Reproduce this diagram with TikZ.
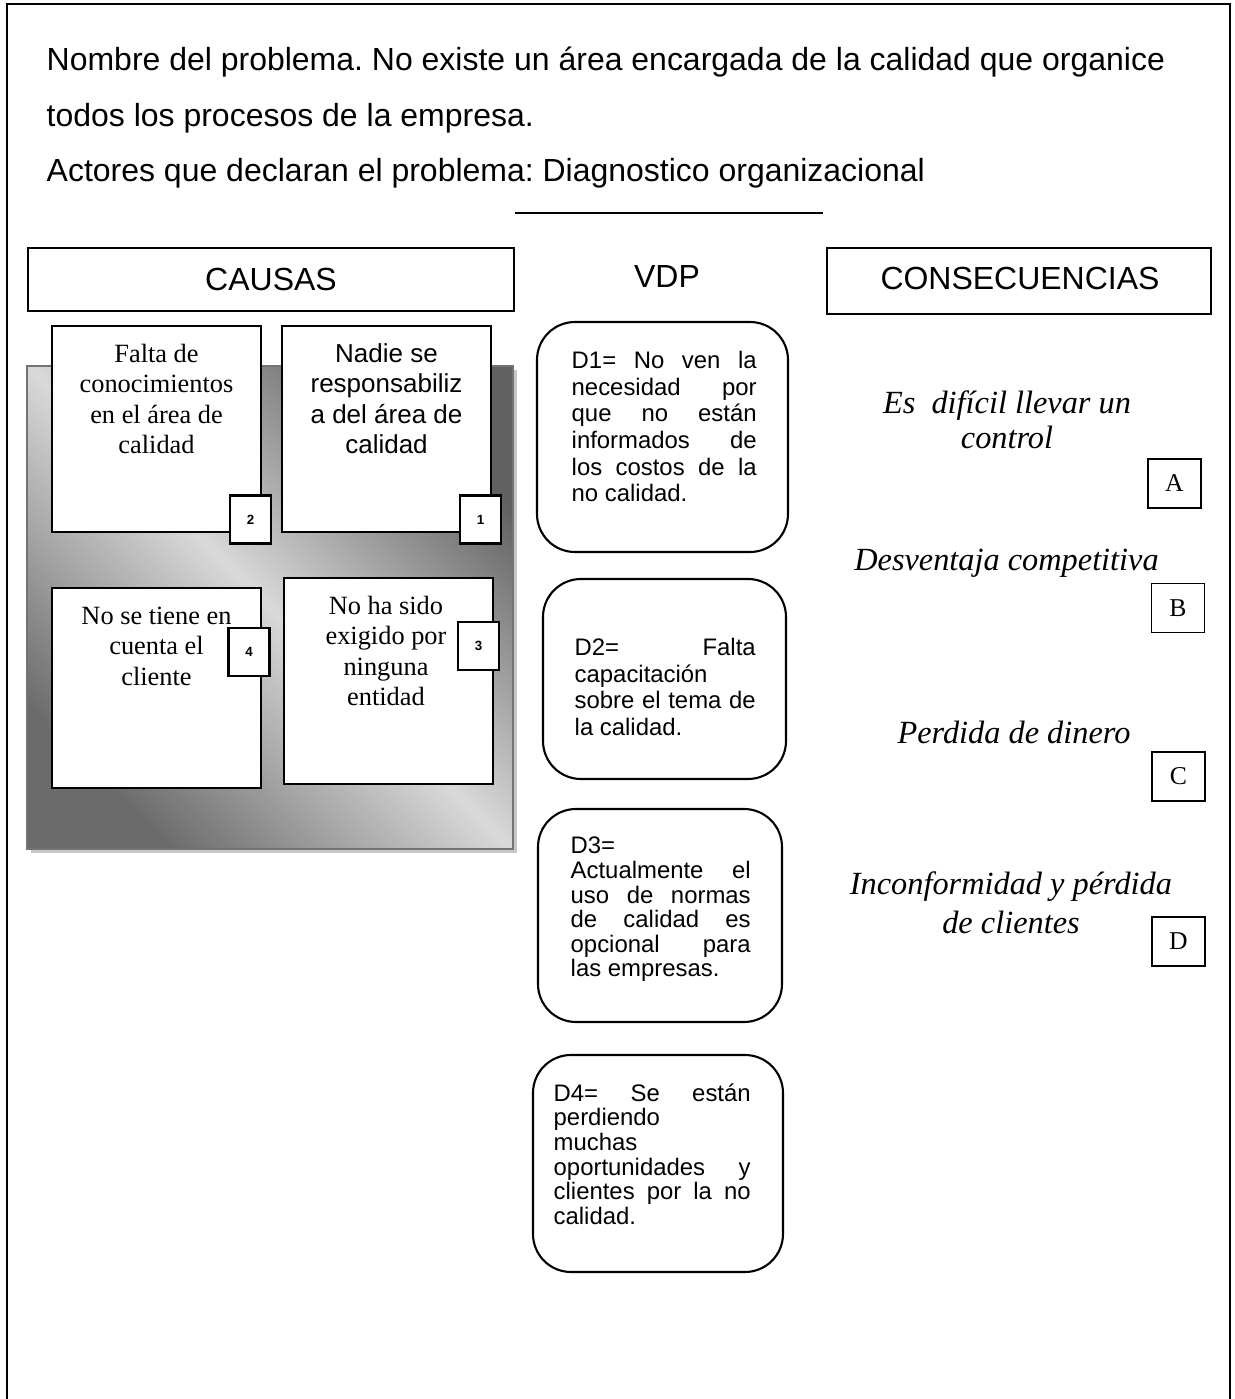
\documentclass[tikz,border=0pt]{standalone}
\usepackage{fontspec}
\setmainfont{Liberation Serif}
\setsansfont{Liberation Sans}
\frenchspacing
\def\alto{\rule{0pt}{0.7\baselineskip}}
\tikzset{
	titulo/.style={anchor=north west, inner sep=0pt, align=left, font=\sffamily\fontsize{9.1}{15.8}\selectfont},
	encabezado/.style={inner sep=0pt, font=\sffamily\fontsize{9.1}{11}\selectfont},
	causa/.style={anchor=north, inner sep=0pt, align=center, font=\fontsize{7.5}{8.7}\selectfont},
	numero/.style={draw, line width=0.6pt, fill=white, minimum width=0.41cm, minimum height=0.48cm, inner sep=0pt, font=\sffamily\bfseries\fontsize{3.8}{4.5}\selectfont},
	vdptxt/.style={anchor=north west, inner sep=0pt, align=justify, font=\sffamily\fontsize{6.8}{7.6}\selectfont},
	consec/.style={anchor=north, inner sep=0pt, align=center, font=\itshape\fontsize{9.2}{10}\selectfont},
	letra/.style={draw, minimum width=0.53cm, minimum height=0.49cm, inner sep=0pt, font=\fontsize{7.3}{8}\selectfont}
}
\begin{document}
\begin{tikzpicture}
			%%%%% START %%%%%
			\useasboundingbox (0, 0) rectangle (12.35, 13.99);
			\draw[line width=0.6pt] (0.07, 0) -- (0.07, 13.95) -- (12.30, 13.95) -- (12.30, 0);
			
			\node[titulo] (problema) at (0.46, 13.68) {\alto Nombre del problema. No existe un área encargada de la calidad que organice\\todos los procesos de la empresa.\\Actores que declaran el problema: Diagnostico organizacional};
			\draw (5.15, 11.86) -- (8.23, 11.86);
			
			\draw[line width=0.6pt] (0.28, 10.88) rectangle (5.14, 11.51);
			\node[encabezado] (causas) at (2.71, 11.20) {CAUSAS};
			\node[encabezado] (vdp) at (6.67, 11.22) {VDP};
			\draw[line width=0.6pt] (8.27, 10.85) rectangle (12.11, 11.51);
			\node[encabezado] (consecuencias) at (10.20, 11.21) {CONSECUENCIAS};
			
			\fill[black!22] (0.31, 5.46) rectangle (5.17, 10.29);
			\shade[top color=black!62, bottom color=black!58, middle color=black!15, shading angle=-45] (0.27, 5.50) rectangle (5.13, 10.33);
			\draw[black!55] (0.27, 5.50) rectangle (5.13, 10.33);
			
			\draw[line width=0.6pt, fill=white] (0.52, 8.67) rectangle (2.61, 10.73);
			\node[causa] (falta) at (1.565, 10.59) {\alto Falta de\\conocimientos\\en el área de\\calidad};
			\node[numero] (n2) at (2.505, 8.795) {2};
			
			\draw[line width=0.6pt, fill=white] (2.82, 8.67) rectangle (4.91, 10.73);
			\node[causa, font=\sffamily\fontsize{7.4}{8.7}\selectfont] (nadie) at (3.865, 10.59) {\alto Nadie se\\responsabiliz\\a del área de\\calidad};
			\node[numero] (n1) at (4.805, 8.795) {1};
			
			\draw[line width=0.6pt, fill=white] (0.52, 6.11) rectangle (2.61, 8.11);
			\node[causa] (cliente) at (1.565, 7.97) {\alto No se tiene en\\cuenta el\\cliente};
			\node[numero] (n4) at (2.49, 7.47) {4};
			
			\draw[line width=0.6pt, fill=white] (2.84, 6.15) rectangle (4.93, 8.21);
			\node[causa] (exigido) at (3.86, 8.07) {\alto No ha sido\\exigido por\\ninguna\\entidad};
			\node[numero] (n3) at (4.785, 7.53) {3};
			
			\draw[line width=0.6pt, rounded corners=0.38cm] (5.37, 8.47) rectangle (7.88, 10.77);
			\node[vdptxt, text width=1.85cm] (d1) at (5.71, 10.50) {\alto D1= No ven la\linebreak necesidad por\linebreak que no están\linebreak informados de\linebreak los costos de la\linebreak no calidad.};
			
			\draw[line width=0.6pt, rounded corners=0.38cm] (5.43, 6.20) rectangle (7.86, 8.20);
			\node[vdptxt, text width=1.81cm] (d2) at (5.74, 7.63) {\alto D2= Falta\linebreak capacitación\linebreak sobre el tema de\linebreak la calidad.};
			
			\draw[line width=0.6pt, rounded corners=0.38cm] (5.38, 3.77) rectangle (7.82, 5.90);
			\node[vdptxt, text width=1.80cm, font=\sffamily\fontsize{6.8}{7}\selectfont] (d3) at (5.70, 5.63) {\alto D3=\linebreak Actualmente el\linebreak uso de normas\linebreak de calidad es\linebreak opcional para\linebreak las empresas.};
			
			\draw[line width=0.6pt, rounded corners=0.38cm] (5.33, 1.27) rectangle (7.83, 3.44);
			\node[vdptxt, text width=1.97cm, font=\sffamily\fontsize{6.8}{7}\selectfont] (d4) at (5.53, 3.16) {\alto D4= Se están\linebreak perdiendo\linebreak muchas\linebreak oportunidades y\linebreak clientes por la no\linebreak calidad.};
			
			\node[consec] (control) at (10.07, 10.11) {\alto Es\ \ difícil llevar un\\control};
			\node[letra] (la) at (11.745, 9.155) {A};
			\node[consec] (desventaja) at (10.065, 8.54) {\alto Desventaja competitiva};
			\node[letra] (lb) at (11.78, 7.91) {B};
			\node[consec] (dinero) at (10.14, 6.81) {\alto Perdida de dinero};
			\node[letra] (lc) at (11.785, 6.225) {C};
			\node[consec, font=\itshape\fontsize{9.2}{11.1}\selectfont] (inconformidad) at (10.11, 5.33) {\alto Inconformidad y pérdida\\de clientes};
			\node[letra] (ld) at (11.785, 4.575) {D};
			%%%%% END %%%%%
\end{tikzpicture}
\end{document}
